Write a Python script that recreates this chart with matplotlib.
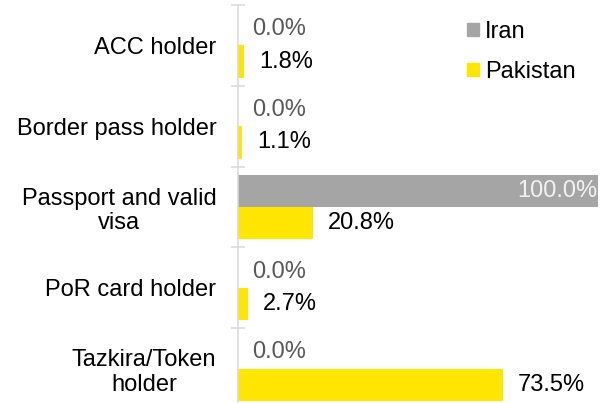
import matplotlib
matplotlib.use("Agg")
import matplotlib.pyplot as plt
from matplotlib.patches import Patch
import numpy as np

plt.rcParams['font.family'] = ['Liberation Sans', 'DejaVu Sans']

# data
categories = ['ACC holder', 'Border pass holder', 'Passport and valid\nvisa',
              'PoR card holder', 'Tazkira/Token\nholder']
iran = [0.0, 0.0, 100.0, 0.0, 0.0]
pakistan = [1.8, 1.1, 20.8, 2.7, 73.5]

grey = '#a5a5a5'
yellow = '#ffe600'
fs = 17

fig = plt.figure(figsize=(6.14, 4.03), dpi=100)
# axes runs a bit past the bottom edge, like the original crop
ax = fig.add_axes([238/614, -6/403, 360/614, 404/403])

y = np.arange(len(categories))
h = 0.4
ax.barh(y - h/2, iran, height=h, color=grey)
ax.barh(y + h/2, pakistan, height=h, color=yellow)

ax.set_xlim(0, 100)
ax.set_ylim(len(categories) - 0.5, -0.5)

# value labels
for i in range(len(categories)):
    if iran[i] >= 100:
        ax.annotate('%.1f%%' % iran[i], (iran[i], y[i] - h/2), xytext=(-1, 0),
                    textcoords='offset pixels', ha='right', va='center',
                    fontsize=fs, color='#f2f2f2')
    else:
        ax.annotate('%.1f%%' % iran[i], (iran[i], y[i] - h/2), xytext=(14, 0),
                    textcoords='offset pixels', ha='left', va='center',
                    fontsize=fs, color='#595959')
    ax.annotate('%.1f%%' % pakistan[i], (pakistan[i], y[i] + h/2), xytext=(15, 0),
                textcoords='offset pixels', ha='left', va='center',
                fontsize=fs, color='black')

for s in ['top', 'right', 'bottom']:
    ax.spines[s].set_visible(False)
ax.spines['left'].set_color('#d9d9d9')
ax.spines['left'].set_linewidth(1.1)

ax.set_xticks([])
ax.set_yticks(y)
ax.set_yticklabels(categories, fontsize=fs, linespacing=1.15,
                   multialignment='center')
ax.tick_params(axis='y', which='major', length=0, pad=15.5)
ax.set_yticks(np.arange(-0.5, len(categories), 1), minor=True)
ax.tick_params(axis='y', which='minor', direction='inout', length=10,
               width=1.1, color='#d9d9d9')

handles = [Patch(color=grey), Patch(color=yellow)]
ax.legend(handles, ['Iran', 'Pakistan'], loc='upper left',
          bbox_to_anchor=(467/614, 1 - 21/403), bbox_transform=fig.transFigure,
          frameon=False, fontsize=fs, handlelength=0.5, handleheight=0.5,
          handletextpad=0.25, labelspacing=0.75, borderpad=0, borderaxespad=0)

fig.savefig('out.png', dpi=100)
